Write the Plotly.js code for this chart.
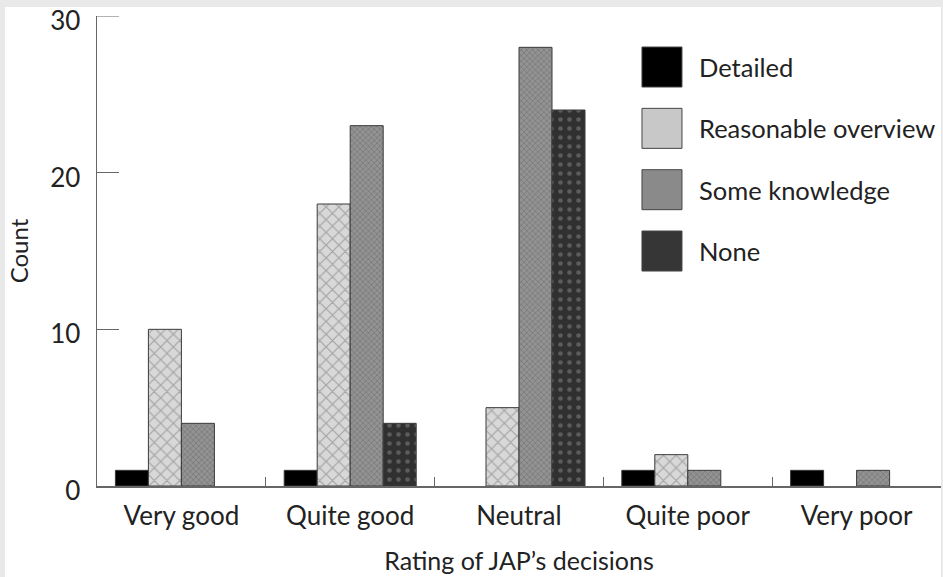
<!DOCTYPE html>
<html>
<head>
<meta charset="utf-8">
<script src="https://cdn.plot.ly/plotly-3.0.1.min.js"></script>
<style>
  html, body { margin: 0; padding: 0; background: #fff; width: 943px; height: 577px; overflow: hidden; }
  #chart { position: absolute; left: 0; top: 0; width: 943px; height: 577px; }
  .strip { position: absolute; background: #e9e9e9; z-index: 10; }
</style>
</head>
<body>
<div id="chart"></div>
<div class="strip" style="left:0;top:0;width:943px;height:7px;"></div>
<div class="strip" style="left:0;top:0;width:5px;height:577px;"></div>
<div class="strip" style="left:941px;top:0;width:2px;height:577px;"></div>
<script>
const categories = ["Very good", "Quite good", "Neutral", "Quite poor", "Very poor"];
const seriesNames = ["Detailed", "Reasonable overview", "Some knowledge", "None"];
const detailed = [1, 1, 0, 1, 1];
const reasonable = [10, 18, 5, 2, 0];
const someKnowledge = [4, 23, 28, 1, 1];
const none = [0, 4, 24, 0, 0];
const yTicks = [0, 10, 20, 30];

const seriesValues = [detailed, reasonable, someKnowledge, none];
const styles = [
  { color: "#000000", pattern: { shape: "" }, swatch: "#000000" },
  { color: "#d2d2d2", pattern: { shape: "x", bgcolor: "#d8d8d8", fgcolor: "#a4a4a4", size: 9, solidity: 0.25 }, swatch: "#c8c8c8" },
  { color: "#8c8c8c", pattern: { shape: "x", bgcolor: "#939393", fgcolor: "#727272", size: 4, solidity: 0.3 }, swatch: "#8a8a8a" },
  { color: "#333333", pattern: { shape: ".", bgcolor: "#303030", fgcolor: "#5c5c5c", size: 9, solidity: 0.2 }, swatch: "#363636" }
];

const font = "Lato, 'Open Sans', sans-serif";

const traces = seriesValues.map((vals, i) => ({
  type: "bar",
  name: seriesNames[i],
  x: categories,
  y: vals,
  marker: {
    color: styles[i].color,
    pattern: styles[i].pattern,
    line: { color: "#3a3a3a", width: vals.map(v => (v > 0 ? 1 : 0)) }
  },
  showlegend: false,
  hoverinfo: "skip"
}));

const shapes = [];
const annotations = [];
const top0 = 0.934, step = 0.1305, sh = 0.0851;
seriesNames.forEach((n, i) => {
  const yt = top0 - i * step;
  shapes.push({
    type: "rect", xref: "paper", yref: "paper",
    x0: 0.6457, x1: 0.6931, y0: yt - sh, y1: yt,
    fillcolor: styles[i].swatch, line: { color: "#444", width: 1 }
  });
  annotations.push({
    xref: "paper", yref: "paper", x: 0.7105, y: yt - sh / 2,
    xanchor: "left", yanchor: "middle", showarrow: false,
    text: n, font: { family: font, size: 25.5, color: "#222" }
  });
});
// top tick mark at the last y tick value (Plotly omits ticks at the very range end)
shapes.push({
  type: "line", xref: "paper", yref: "y",
  x0: 0, x1: 22 / 844, y0: yTicks[yTicks.length - 1], y1: yTicks[yTicks.length - 1],
  line: { color: "#666", width: 1 }
});

const layout = {
  width: 943, height: 577,
  margin: { l: 97, r: 2, t: 16, b: 91 },
  paper_bgcolor: "#ffffff",
  plot_bgcolor: "#ffffff",
  barmode: "group",
  bargap: 0.218,
  bargroupgap: 0,
  showlegend: false,
  font: { family: font, color: "#222" },
  xaxis: {
    type: "category",
    showline: true, linecolor: "#666", linewidth: 1.5,
    ticks: "inside", tickson: "boundaries", ticklen: 9, tickcolor: "#666",
    showgrid: false, zeroline: false,
    tickfont: { family: font, size: 26, color: "#222" },
    ticklabelstandoff: 6,
    title: { text: "Rating of JAP’s decisions", font: { family: font, size: 25, color: "#222" }, standoff: 23 }
  },
  yaxis: {
    range: [0, 30],
    tickmode: "array",
    tickvals: yTicks,
    ticklabeloverflow: "allow",
    ticklabelshift: 5,
    showline: true, linecolor: "#666", linewidth: 1.5,
    ticks: "inside", ticklen: 22, tickcolor: "#666",
    showgrid: false, zeroline: false,
    tickfont: { family: font, size: 26, color: "#222" },
    ticklabelstandoff: 10,
    title: { text: "Count", font: { family: font, size: 24, color: "#222" }, standoff: 14 }
  },
  shapes: shapes,
  annotations: annotations
};

Plotly.newPlot("chart", traces, layout, { staticPlot: true, displayModeBar: false });
</script>
</body>
</html>
